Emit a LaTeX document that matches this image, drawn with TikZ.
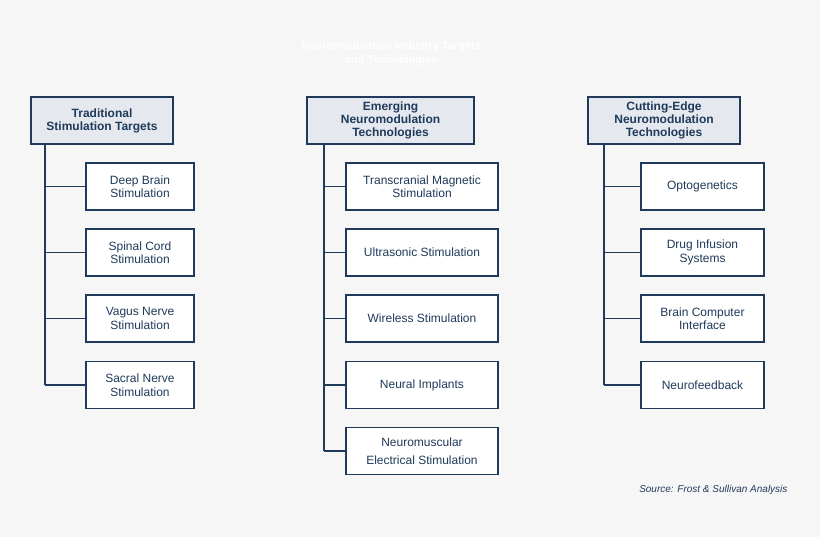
\documentclass[tikz,border=0pt]{standalone}
\usepackage{fontspec}
\setmainfont{Liberation Sans}
\definecolor{bg}{HTML}{F6F6F6}
\definecolor{nv}{HTML}{1F3A5A}
\definecolor{hd}{HTML}{E5E9EF}
\begin{document}
\begin{tikzpicture}[x=1pt,y=-1pt,
 box/.style={draw=nv,line width=1.8pt,fill=white,text=nv,align=center,font=\fontsize{12}{13.5}\selectfont,inner sep=0pt},
 head/.style={box,fill=hd,font=\bfseries\fontsize{12}{13}\selectfont},
 ln/.style={draw=nv,line width=1.8pt}]
\fill[bg] (0,0) rectangle (820,537);
\useasboundingbox (0,0) rectangle (820,537);
\node[text=white,font=\bfseries\fontsize{11}{14}\selectfont,align=center] (title) at (391,54) {Neuromodulation Industry Targets\\and Technologies};
% column 1
\node[head,minimum width=142pt,minimum height=47pt] (h1) at (102,120.5) {Traditional\\Stimulation Targets};
\foreach \n/\y/\t in {a/186.5/{Deep Brain\\Stimulation},b/252.5/{Spinal Cord\\Stimulation},c/318.5/{Vagus Nerve\\Stimulation},d/385/{Sacral Nerve\\Stimulation}}
 {\node[box,minimum width=108pt,minimum height=47pt] (c1\n) at (140,\y) {\t};}
\coordinate (t1) at (45,144);
\draw[ln] (h1.south -| t1) -- (c1d.west -| t1);
\foreach \n in {a,b,c,d} {\draw[ln] (c1\n.west -| t1) -- (c1\n.west);}
% column 2
\node[head,minimum width=167pt,minimum height=47pt] (h2) at (390.5,120.5) {Emerging\\Neuromodulation\\Technologies};
\foreach \n/\y/\t in {a/186.5/{Transcranial Magnetic\\Stimulation},b/252.5/{Ultrasonic Stimulation},c/318.5/{Wireless Stimulation},d/385/{Neural Implants},e/451/{Neuromuscular\\[4pt]Electrical Stimulation}}
 {\node[box,minimum width=152pt,minimum height=47pt] (c2\n) at (422,\y) {\t};}
\coordinate (t2) at (324,144);
\draw[ln] (h2.south -| t2) -- (c2e.west -| t2);
\foreach \n in {a,b,c,d,e} {\draw[ln] (c2\n.west -| t2) -- (c2\n.west);}
% column 3
\node[head,minimum width=152pt,minimum height=47pt] (h3) at (664,120.5) {Cutting-Edge\\Neuromodulation\\Technologies};
\foreach \n/\y/\t in {a/186.5/{Optogenetics},b/252.5/{Drug Infusion\\Systems},c/318.5/{Brain Computer\\Interface},d/385/{Neurofeedback}}
 {\node[box,minimum width=123pt,minimum height=47pt] (c3\n) at (702.5,\y) {\t};}
\coordinate (t3) at (604,144);
\draw[ln] (h3.south -| t3) -- (c3d.west -| t3);
\foreach \n in {a,b,c,d} {\draw[ln] (c3\n.west -| t3) -- (c3\n.west);}
\node[anchor=east,text=nv,font=\itshape\fontsize{10}{12}\selectfont] (src) at (791,490) {Source: Frost \& Sullivan Analysis};
\end{tikzpicture}
\end{document}
